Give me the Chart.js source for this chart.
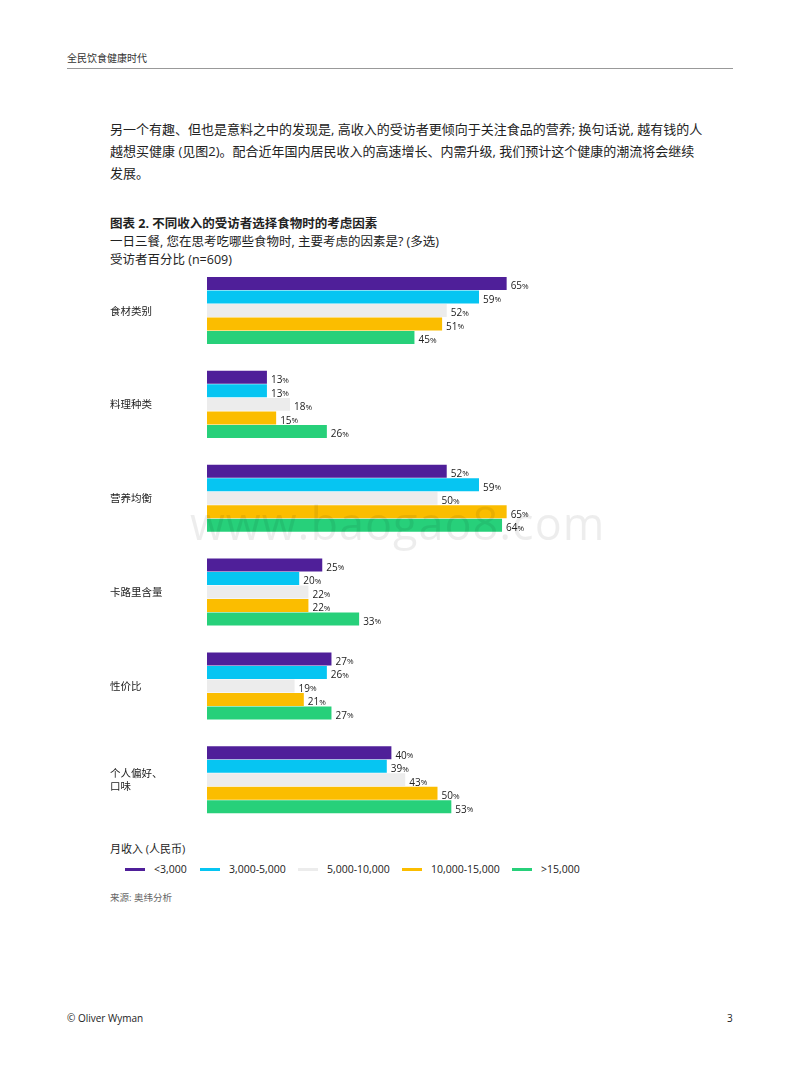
<!DOCTYPE html>
<html>
<head>
<meta charset="utf-8">
<script src="https://cdn.jsdelivr.net/npm/chart.js@4"></script>
<style>
  body { margin: 0; background: #fff; font-family: "Open Sans", "Noto Sans CJK SC", sans-serif; color: #222; }
  .page { position: relative; width: 800px; height: 1065px; }
  .abs { position: absolute; }
  .hdr { left: 67px; top: 50px; font-size: 10px; color: #333; }
  .rule { left: 67px; top: 68px; width: 666px; height: 1px; background: #999; }
  .para { left: 110px; top: 118px; width: 600px; font-size: 13px; line-height: 22px; white-space: nowrap; }
  .title { left: 110px; top: 213px; font-size: 12.5px; font-weight: bold; }
  .sub { left: 110px; top: 233px; font-size: 12.5px; line-height: 18px; }
  .legt { left: 110px; top: 840px; font-size: 11px; }
  .leg span { position: absolute; top: 862px; font-size: 10.5px; display: inline-flex; align-items: center; white-space: nowrap; }
  .leg i { display: inline-block; width: 20px; height: 3px; margin-right: 9px; }
  .src { left: 110px; top: 890px; font-size: 9.5px; color: #666; }
  .foot { top: 1011px; font-size: 10px; }
  .wm { left: 190px; top: 492px; font-size: 45px; color: rgba(0,0,0,0.07); letter-spacing: 1px; }
  #c { position: absolute; left: 110px; top: 251px; }
</style>
</head>
<body>
<div class="page">
  <div class="abs hdr">全民饮食健康时代</div>
  <div class="abs rule"></div>
  <div class="abs para">另一个有趣、但也是意料之中的发现是, 高收入的受访者更倾向于关注食品的营养; 换句话说, 越有钱的人<br>越想买健康 (见图2)。配合近年国内居民收入的高速增长、内需升级, 我们预计这个健康的潮流将会继续<br>发展。</div>
  <div class="abs title">图表 2. 不同收入的受访者选择食物时的考虑因素</div>
  <div class="abs sub">一日三餐, 您在思考吃哪些食物时, 主要考虑的因素是? (多选)<br>受访者百分比 (n=609)</div>
  <canvas id="c" width="558" height="582"></canvas>
  <div class="abs wm">www.baogao8.com</div>
  <div class="abs legt">月收入 (人民币)</div>
  <div class="leg" id="leg"></div>
  <div class="abs src">来源: 奥纬分析</div>
  <div class="abs foot" style="left:67px">© Oliver Wyman</div>
  <div class="abs foot" style="left:727px">3</div>
</div>
<script>
// 数据
const categories = ['食材类别', '料理种类', '营养均衡', '卡路里含量', '性价比', ['个人偏好、', '口味']];
const seriesNames = ['<3,000', '3,000-5,000', '5,000-10,000', '10,000-15,000', '>15,000'];
const seriesColors = ['#4f1f99', '#06c5f2', '#ececec', '#fbbd00', '#27d07a'];
const income1 = [65, 13, 52, 25, 27, 40];
const income2 = [59, 13, 59, 20, 26, 39];
const income3 = [52, 18, 50, 22, 19, 43];
const income4 = [51, 15, 65, 22, 21, 50];
const income5 = [45, 26, 64, 33, 27, 53];
const allSeries = [income1, income2, income3, income4, income5];

// 图例
const legendX = [125, 200, 298, 402, 512];
document.getElementById('leg').innerHTML = seriesNames.map((n, i) =>
  `<span style="left:${legendX[i]}px"><i style="background:${seriesColors[i]}"></i>${n}</span>`).join('');

// 数值标签
const valueLabels = {
  id: 'valueLabels',
  afterDatasetsDraw(chart) {
    const ctx = chart.ctx;
    ctx.save();
    ctx.fillStyle = '#222';
    ctx.textBaseline = 'middle';
    chart.data.datasets.forEach((ds, i) => {
      chart.getDatasetMeta(i).data.forEach((bar, j) => {
        const x = bar.x + 4, y = bar.y + 3;
        ctx.font = '10px "Open Sans"';
        const num = String(ds.data[j]);
        ctx.fillText(num, x, y);
        const w = ctx.measureText(num).width;
        ctx.font = '8px "Open Sans"';
        ctx.fillText('%', x + w, y);
      });
    });
    ctx.restore();
  }
};

new Chart(document.getElementById('c'), {
  type: 'bar',
  data: {
    labels: categories,
    datasets: allSeries.map((d, i) => ({
      label: seriesNames[i],
      data: d,
      backgroundColor: seriesColors[i],
      categoryPercentage: 0.72,
      barPercentage: 0.96
    }))
  },
  options: {
    indexAxis: 'y',
    responsive: false,
    animation: false,
    layout: { padding: 0 },
    plugins: { legend: { display: false }, tooltip: { enabled: false } },
    scales: {
      x: { display: false, min: 0, max: 100 },
      y: {
        grid: { display: false },
        border: { display: false },
        afterFit(s) { s.width = 97; },
        ticks: {
          crossAlign: 'far',
          padding: 0,
          color: '#222',
          font: { size: 10.5, family: '"Noto Sans CJK SC"' }
        }
      }
    }
  },
  plugins: [valueLabels]
});
</script>
</body>
</html>
